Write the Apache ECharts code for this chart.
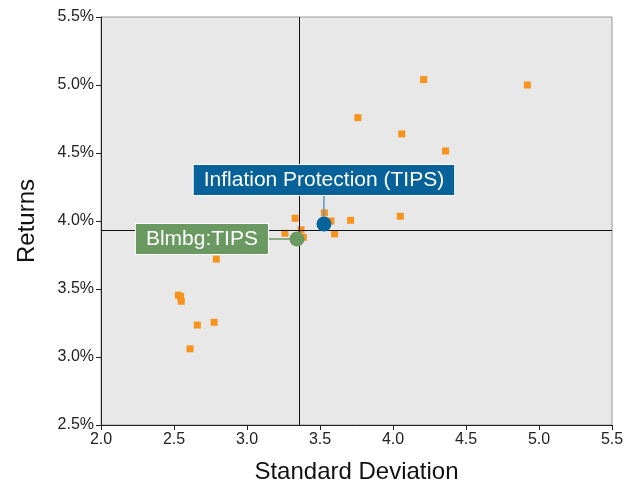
<!DOCTYPE html>
<html><head><meta charset="utf-8">
<script src="https://cdn.jsdelivr.net/npm/echarts@6/dist/echarts.min.js"></script>
<style>html,body{margin:0;padding:0;background:#fff}#c{width:639px;height:485px}</style>
</head><body><div id="c"></div>
<script>
const xTicks = [2.0, 2.5, 3.0, 3.5, 4.0, 4.5, 5.0, 5.5];
const yTicks = [2.5, 3.0, 3.5, 4.0, 4.5, 5.0, 5.5];
const peerStd = [4.21, 4.92, 3.76, 4.06, 4.36, 3.58, 3.53, 3.33, 3.71, 4.05, 3.575, 3.26, 3.37, 3.385, 3.60, 2.79, 2.53, 2.545, 2.55, 2.66, 2.775, 2.61];
const peerRet = [5.04, 5.00, 4.76, 4.64, 4.515, 4.21, 4.06, 4.02, 4.005, 4.035, 4.00, 3.91, 3.935, 3.88, 3.905, 3.72, 3.455, 3.445, 3.41, 3.235, 3.255, 3.06];
const fundName = 'Inflation Protection (TIPS)';
const fund = [3.527, 3.978];
const benchName = 'Blmbg:TIPS';
const bench = [3.342, 3.868];
const crossX = 3.363;
const crossY = 3.926;

const chart = echarts.init(document.getElementById('c'));
const font = 'Liberation Sans, Arial, sans-serif';
chart.setOption({
  animation: false,
  grid: {left: 101, right: 27, top: 17, bottom: 60, outerBoundsMode: 'none', containLabel: false, show: true, backgroundColor: '#e8e8e8', borderColor: '#9a9a9a', borderWidth: 1},
  xAxis: {
    type: 'value', min: 2.0, max: 5.5, interval: 0.5,
    name: 'Standard Deviation', nameLocation: 'middle', nameGap: 35,
    nameTextStyle: {fontFamily: font, fontSize: 24, color: '#111'},
    axisLine: {show: true, onZero: false, lineStyle: {color: '#222'}},
    axisTick: {show: true, length: 5, lineStyle: {color: '#222'}},
    axisLabel: {fontFamily: font, fontSize: 16, color: '#222', margin: 7, formatter: v => v.toFixed(1)},
    splitLine: {show: false}
  },
  yAxis: {
    type: 'value', min: 2.5, max: 5.5, interval: 0.5,
    name: 'Returns', nameLocation: 'middle', nameGap: 62, nameRotate: 90,
    nameTextStyle: {fontFamily: font, fontSize: 24, color: '#111'},
    axisLine: {show: true, onZero: false, lineStyle: {color: '#222'}},
    axisTick: {show: true, length: 5, lineStyle: {color: '#222'}},
    axisLabel: {fontFamily: font, fontSize: 16, color: '#222', margin: 7, formatter: v => v.toFixed(1) + '%'},
    splitLine: {show: false}
  },
  series: [
    {
      type: 'scatter', symbol: 'rect', symbolSize: 7,
      itemStyle: {color: '#f7941d', opacity: 1},
      data: peerStd.map((s, i) => [s, peerRet[i]]),
      markLine: {
        silent: true, symbol: 'none', label: {show: false},
        lineStyle: {color: '#111', width: 1, type: 'solid'},
        data: [{xAxis: crossX}, {yAxis: crossY}]
      },
      z: 2
    },
    {
      type: 'line', data: [[fund[0], fund[1]], [fund[0], 4.19]], symbol: 'none',
      lineStyle: {color: '#5a9ac8', width: 1.5}, z: 3
    },
    {
      type: 'line', data: [[3.14, bench[1]], [bench[0], bench[1]]], symbol: 'none',
      lineStyle: {color: '#6a9a62', width: 1.5}, z: 3
    },
    {
      type: 'scatter', symbol: 'circle', symbolSize: 15,
      itemStyle: {color: '#6a9a62', opacity: 1},
      data: [bench],
      label: {
        show: true, formatter: benchName, position: 'inside', offset: [-95, 0],
        backgroundColor: '#6a9a62', color: '#fff', fontFamily: font, fontSize: 21,
        padding: [5, 10, 4, 10], borderColor: '#fff', borderWidth: 1
      },
      z: 5
    },
    {
      type: 'scatter', symbol: 'circle', symbolSize: 15,
      itemStyle: {color: '#07629a', opacity: 1},
      data: [fund],
      label: {
        show: true, formatter: fundName, position: 'inside', offset: [0, -44],
        backgroundColor: '#07629a', color: '#fff', fontFamily: font, fontSize: 21,
        padding: [5, 10, 4, 10], borderColor: '#fff', borderWidth: 1
      },
      z: 6
    }
  ]
});
</script></body></html>
